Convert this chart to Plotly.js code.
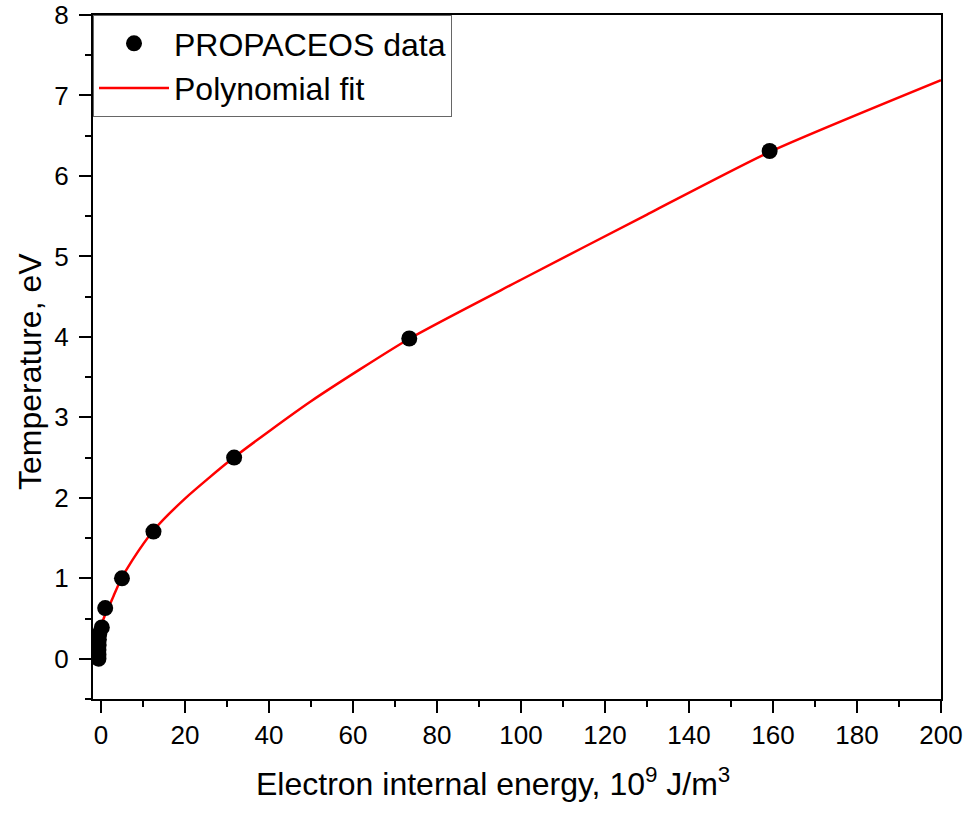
<!DOCTYPE html>
<html>
<head>
<meta charset="utf-8">
<script src="https://cdn.plot.ly/plotly-3.0.1.min.js"></script>
<style>html,body{margin:0;padding:0;background:#fff;}#chart{width:969px;height:815px;}</style>
</head>
<body>
<div id="chart"></div>
<script>
// PROPACEOS data points
const dataX = [-0.6, -0.6, -0.6, -0.55, -0.5, -0.4, 0.2, 1.0, 5.0, 12.5, 31.7, 73.4, 159.2];
const dataY = [0.0, 0.05, 0.11, 0.17, 0.24, 0.31, 0.39, 0.63, 1.0, 1.58, 2.5, 3.98, 6.31];
// Polynomial fit curve
const fitX = [-1.8, -1, 0, 1, 2, 3, 4.6, 7.4, 12.6, 20, 31.6, 50, 73.5, 100, 130, 159.3, 200];
const fitY = [0.03, 0.2, 0.4, 0.55, 0.66, 0.78, 0.97, 1.22, 1.6, 1.99, 2.5, 3.2, 3.98, 4.71, 5.52, 6.3, 7.19];
const seriesNames = ["PROPACEOS data", "Polynomial fit"];
const xTitle = "Electron internal energy, 10<sup>9</sup> J/m<sup>3</sup>";
const yTitle = "Temperature, eV";

const FONT = "Liberation Sans, Arial, sans-serif";

const traces = [
  {x: fitX, y: fitY, mode: "lines", name: seriesNames[1], line: {color: "#ff0000", width: 2.5, shape: "spline", smoothing: 0.6}, showlegend: true},
  {x: dataX, y: dataY, mode: "markers", name: seriesNames[0], marker: {color: "#000", size: 16, symbol: "circle"}, showlegend: true}
];

const axisCommon = {
  showline: true, linecolor: "#000", linewidth: 2, mirror: true,
  ticks: "outside", ticklen: 12, tickwidth: 2, tickcolor: "#000",
  showgrid: false, zeroline: false,
  tickfont: {family: FONT, size: 26, color: "#000"}
};

const layout = {
  width: 969, height: 815,
  margin: {l: 93, r: 28, t: 15, b: 116},
  paper_bgcolor: "#fff", plot_bgcolor: "#fff",
  font: {family: FONT, color: "#000"},
  xaxis: Object.assign({}, axisCommon, {
    range: [-1.9, 200], tick0: 0, dtick: 20,
    minor: {dtick: 10, ticks: "outside", ticklen: 6, tickwidth: 2, tickcolor: "#000"}
  }),
  yaxis: Object.assign({}, axisCommon, {
    range: [-0.5, 8], tick0: 0, dtick: 1, ticklabelstandoff: 5,
    minor: {dtick: 0.5, ticks: "outside", ticklen: 6, tickwidth: 2, tickcolor: "#000"}
  }),
  annotations: [
    {text: xTitle, xref: "paper", yref: "paper", x: 0.4717, y: -0.1213, xanchor: "center", yanchor: "middle",
     showarrow: false, font: {family: FONT, size: 32, color: "#000"}},
    {text: yTitle, xref: "paper", yref: "paper", x: -0.0743, y: 0.4795, xanchor: "center", yanchor: "middle",
     textangle: -90, showarrow: false, font: {family: FONT, size: 32, color: "#000"}}
  ],
  legend: {
    x: 0, y: 1, xanchor: "left", yanchor: "top",
    bgcolor: "#fff", bordercolor: "#666", borderwidth: 1,
    font: {family: FONT, size: 32, color: "#000"},
    traceorder: "reversed", itemwidth: 70, tracegroupgap: 0
  },
  showlegend: true
};

Plotly.newPlot("chart", traces, layout, {displayModeBar: false, staticPlot: true});
</script>
</body>
</html>
